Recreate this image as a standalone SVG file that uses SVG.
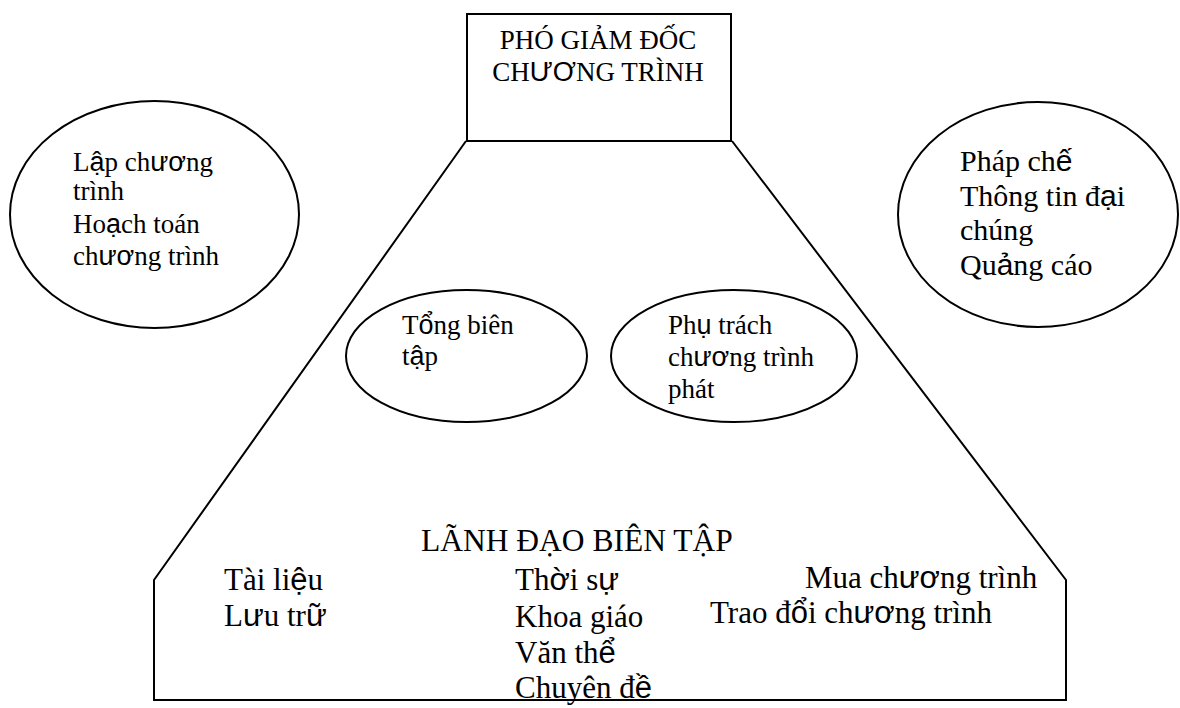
<svg xmlns="http://www.w3.org/2000/svg" width="1180" height="708" viewBox="0 0 1180 708">
<style>
.ln{fill:none;stroke:#000;stroke-width:2}
.sh{fill:#fff;stroke:#000;stroke-width:2}
.t{font-family:"Liberation Serif","Times New Roman",serif;font-size:27px;fill:#000}
.r{font-size:30px}
.b{font-size:31px}
.s{font-family:"Liberation Sans",Arial,sans-serif}
</style>
<rect width="1180" height="708" fill="#fff"/>
<g id="connectors">
<path class="ln" d="M466,141 L154,580 L154,700 L1066,700 L1066,580 L732,141"/>
</g>
<g id="node-pho-giam-doc">
<rect class="sh" x="467" y="14" width="264" height="127"/>
<text class="t" x="598" y="49" text-anchor="middle">PHÓ GIẢM ĐỐC</text>
<text class="t" x="598" y="81" text-anchor="middle">CH<tspan class="s">ƯƠ</tspan>NG TRÌNH</text>
</g>
<g id="node-lap-chuong-trinh">
<ellipse class="sh" cx="154.5" cy="214.5" rx="144.5" ry="113.5"/>
<text class="t" x="73" y="171">L<tspan class="s">ậ</tspan>p ch<tspan class="s">ươ</tspan>ng</text>
<text class="t" x="73" y="200">trình</text>
<text class="t" x="73" y="233">Ho<tspan class="s">ạ</tspan>ch toán</text>
<text class="t" x="73" y="265">ch<tspan class="s">ươ</tspan>ng trình</text>
</g>
<g id="node-phap-che">
<ellipse class="sh" cx="1038" cy="214.5" rx="140" ry="112.5"/>
<text class="t r" x="960" y="171">Pháp ch<tspan class="s">ế</tspan></text>
<text class="t r" x="960" y="206">Thông tin đ<tspan class="s">ạ</tspan>i</text>
<text class="t r" x="960" y="240">chúng</text>
<text class="t r" x="960" y="275">Qu<tspan class="s">ả</tspan>ng cáo</text>
</g>
<g id="node-tong-bien-tap">
<ellipse class="sh" cx="466.5" cy="356" rx="120.5" ry="66"/>
<text class="t" x="402" y="334">T<tspan class="s">ổ</tspan>ng biên</text>
<text class="t" x="402" y="365">t<tspan class="s">ậ</tspan>p</text>
</g>
<g id="node-phu-trach">
<ellipse class="sh" cx="734" cy="356" rx="123" ry="66"/>
<text class="t" x="668" y="334">Ph<tspan class="s">ụ</tspan> trách</text>
<text class="t" x="668" y="366">ch<tspan class="s">ươ</tspan>ng trình</text>
<text class="t" x="668" y="398">phát</text>
</g>
<g id="node-lanh-dao-bien-tap">
<text class="t" x="421" y="551" style="font-size:31.5px">LÃNH ĐẠO BIÊN TẬP</text>
<text class="t b" x="224" y="590">Tài li<tspan class="s">ệ</tspan>u</text>
<text class="t b" x="224" y="626">L<tspan class="s">ư</tspan>u tr<tspan class="s">ữ</tspan></text>
<text class="t b" x="515" y="590">Th<tspan class="s">ờ</tspan>i s<tspan class="s">ự</tspan></text>
<text class="t b" x="515" y="627">Khoa giáo</text>
<text class="t b" x="515" y="663">Văn th<tspan class="s">ể</tspan></text>
<text class="t b" x="515" y="698">Chuyên đ<tspan class="s">ề</tspan></text>
<text class="t b" x="805" y="588">Mua ch<tspan class="s">ươ</tspan>ng trình</text>
<text class="t b" x="710" y="623">Trao đ<tspan class="s">ổ</tspan>i ch<tspan class="s">ươ</tspan>ng trình</text>
</g>
</svg>
